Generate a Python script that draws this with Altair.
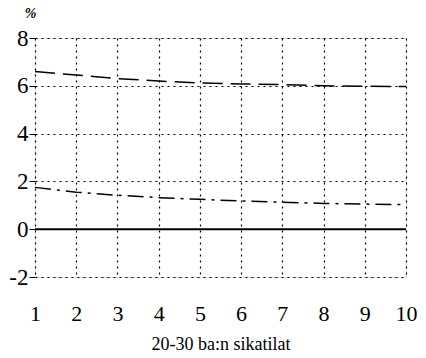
import altair as alt
import pandas as pd

years = [1, 2, 3, 4, 5, 6, 7, 8, 9, 10]
upper = [6.6, 6.45, 6.3, 6.2, 6.12, 6.08, 6.05, 6.0, 5.98, 5.97]
lower = [1.75, 1.55, 1.42, 1.32, 1.25, 1.18, 1.13, 1.08, 1.05, 1.03]
zero = [0, 0, 0, 0, 0, 0, 0, 0, 0, 0]

df = pd.DataFrame({"x": years * 3,
                   "y": upper + lower + zero,
                   "s": ["upper"] * 10 + ["lower"] * 10 + ["zero"] * 10})

FONT = "Liberation Serif"

xax = alt.Axis(values=years, grid=True, gridColor="black", gridDash=[2, 4],
               gridWidth=1.2, ticks=False, domain=False, labelFont=FONT,
               labelFontSize=22, labelColor="black", labelPadding=26,
               title="20-30 ba:n sikatilat", titleFont=FONT,
               titleFontSize=18, titleFontWeight="normal", titleColor="black",
               titleY=67, titleBaseline="middle", labelFlush=False)
yax = alt.Axis(values=[-2, 0, 2, 4, 6, 8], grid=True, gridColor="black",
               gridDash=[2, 4], gridWidth=1.2, ticks=True, tickSize=6,
               tickColor="black", domain=False, labelFont=FONT,
               labelFontSize=23, labelColor="black", labelPadding=1,
               labelExpr="replace(datum.label, '\u2212', '-')",
               title="%", titleAngle=0, titleX=-5, titleY=-18,
               titleFont=FONT, titleFontSize=14, titleFontWeight="bold",
               titleFontStyle="italic",
               titleColor="black", titleAlign="center")

base = alt.Chart(df).encode(
    x=alt.X("x:Q", scale=alt.Scale(domain=[1, 10], nice=False), axis=xax),
    y=alt.Y("y:Q", scale=alt.Scale(domain=[-2, 8], nice=False), axis=yax),
)

up = base.transform_filter(alt.datum.s == "upper").mark_line(
    color="black", strokeWidth=1.5, strokeDash=[20, 8])
lo = base.transform_filter(alt.datum.s == "lower").mark_line(
    color="black", strokeWidth=1.5, strokeDash=[16, 6, 3, 6])
ze = base.transform_filter(alt.datum.s == "zero").mark_line(
    color="black", strokeWidth=2)

chart = alt.layer(up, lo, ze).properties(
    width=371, height=239,
    autosize=alt.AutoSizeParams(type="none"),
    padding={"left": 35, "top": 38, "right": 20, "bottom": 81},
).configure_view(stroke="black", strokeWidth=1.5).configure(
    background="white", font=FONT)

chart.save("out.html", embed_options={"renderer": "svg", "actions": False})
